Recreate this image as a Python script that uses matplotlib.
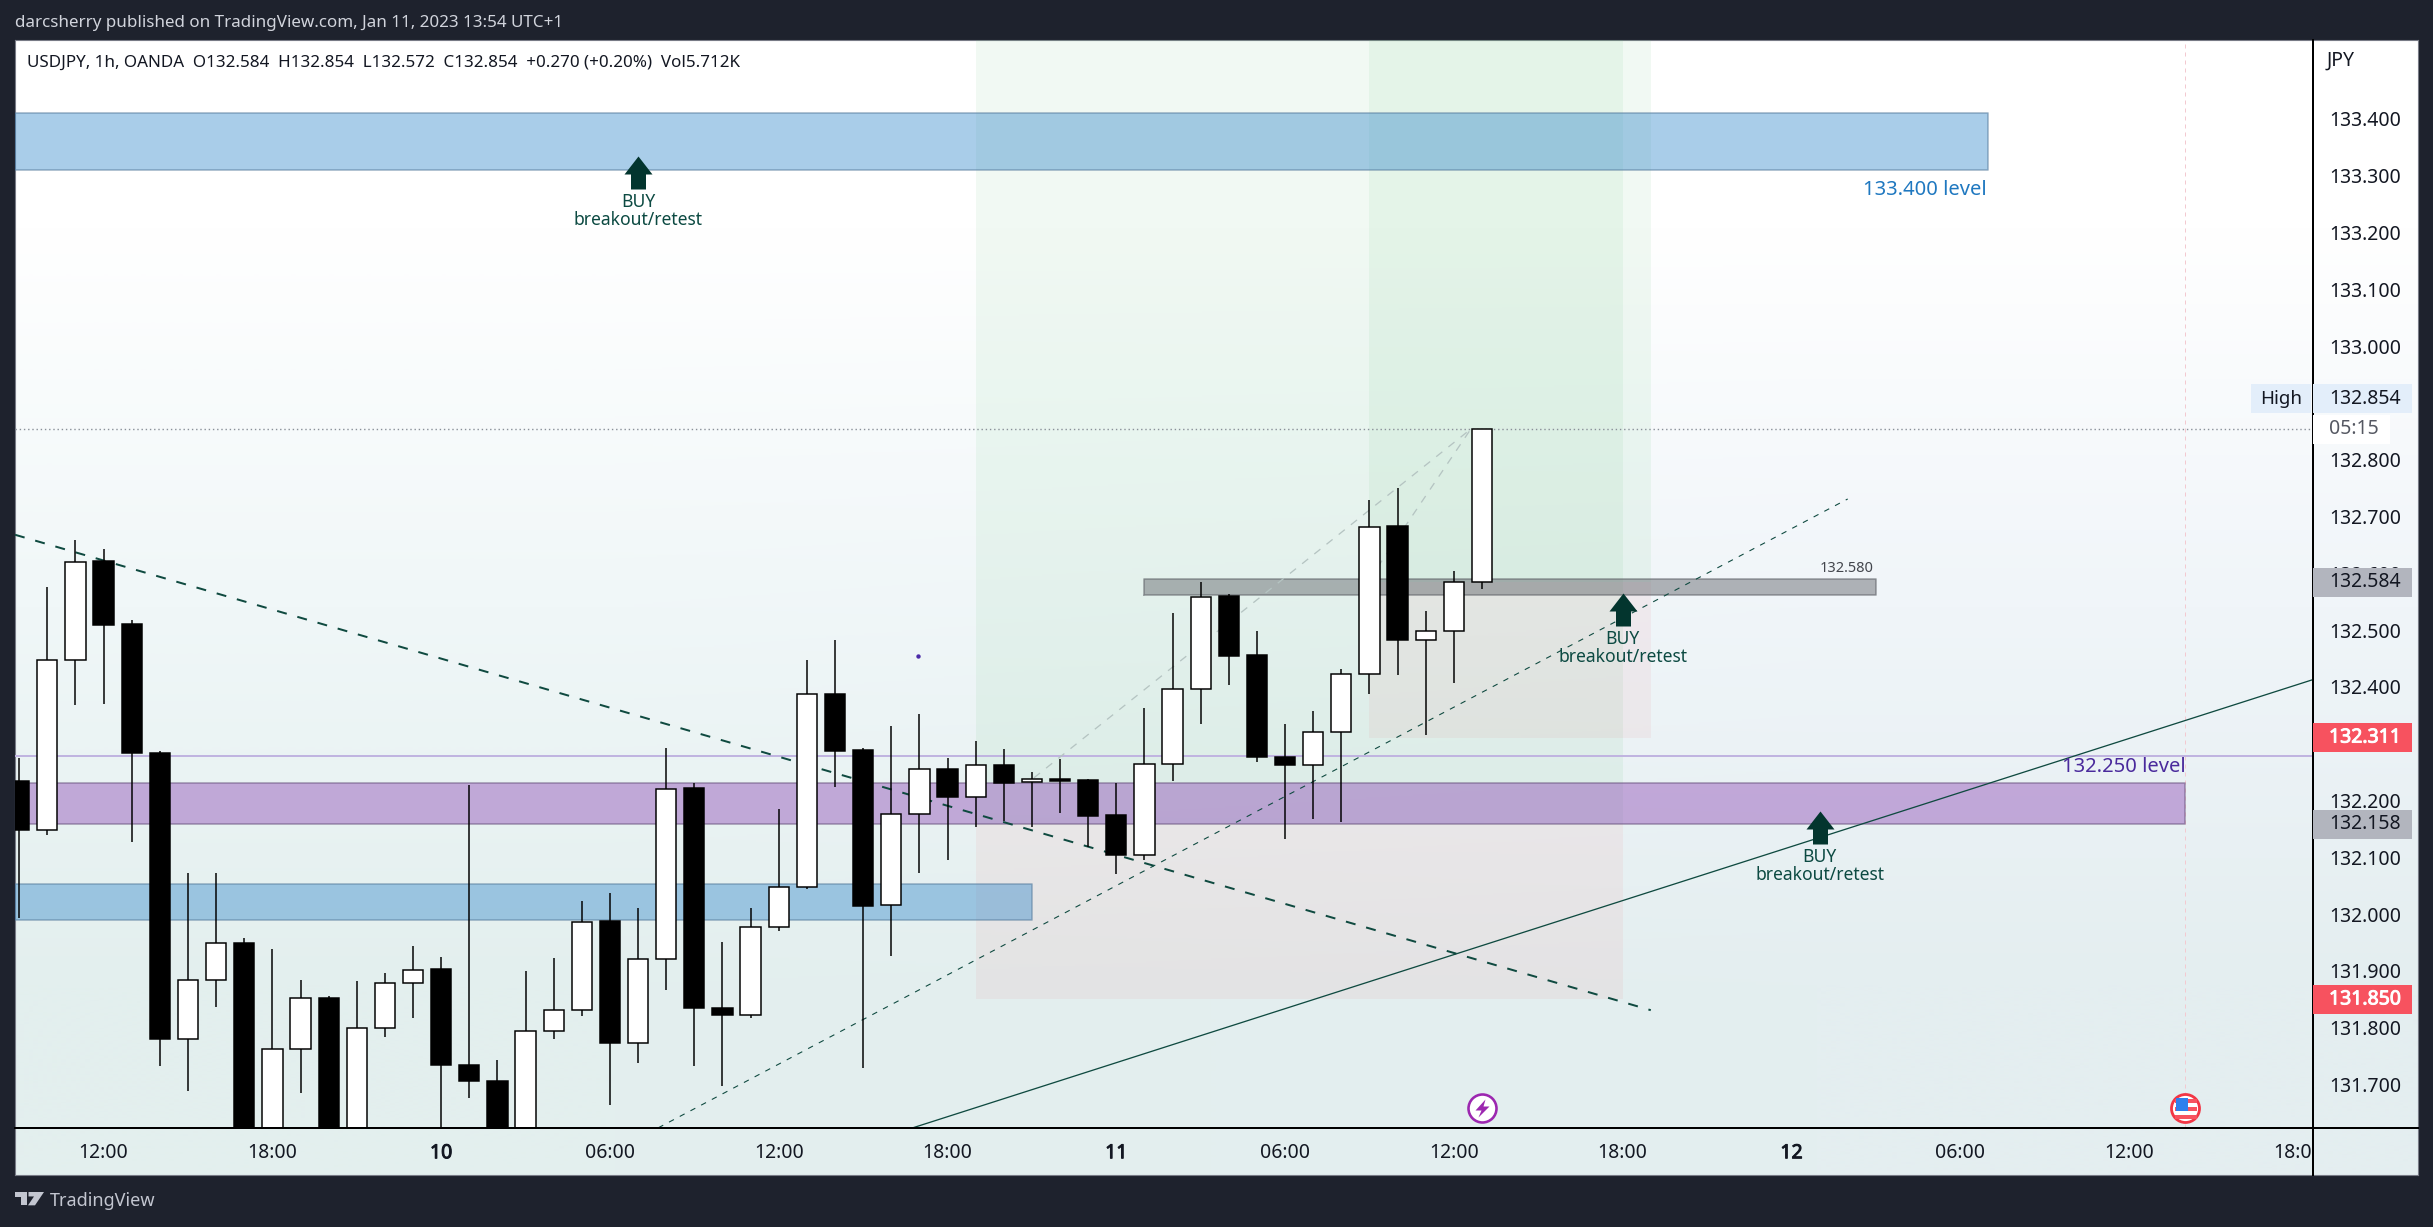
import numpy as np
import matplotlib
matplotlib.use("Agg")
import matplotlib.pyplot as plt
import matplotlib.patheffects as pe
from matplotlib.path import Path
from matplotlib.patches import Circle, Rectangle, Polygon
from matplotlib.transforms import Bbox

plt.rcParams['font.family'] = ['Noto Sans', 'DejaVu Sans']

W, H = 2433, 1227
BG = '#1e222d'

# ---------- data ----------
bar_index = list(range(-3, 50))
opens = [132.235,132.149,132.447,132.621,132.511,132.284,131.781,131.884,131.950,131.505,131.762,131.853,131.546,131.800,
         131.878,131.903,131.734,131.707,131.570,131.794,131.832,131.988,131.774,131.922,132.222,131.835,131.822,131.977,
         132.047,132.388,132.289,132.016,132.177,132.256,132.207,132.263,132.232,132.238,132.236,132.175,132.105,132.264,
         132.397,132.560,132.456,132.277,132.262,132.320,132.422,132.683,132.483,132.498,132.584]
highs = [132.275,132.576,132.659,132.643,132.518,132.287,132.073,132.073,131.958,131.939,131.884,131.856,131.883,131.897,
         131.944,131.924,132.227,131.743,131.900,131.923,132.023,132.037,132.011,132.292,132.231,131.951,132.011,132.186,
         132.447,132.482,132.292,132.331,132.353,132.275,132.305,132.291,132.251,132.273,132.238,132.231,132.363,132.530,
         132.584,132.564,132.499,132.335,132.358,132.432,132.729,132.750,132.534,132.604,132.854]
lows = [131.993,132.140,132.369,132.370,132.127,131.732,131.688,131.836,131.464,131.460,131.686,131.500,131.500,131.784,
        131.818,131.586,131.676,131.520,131.530,131.781,131.820,131.664,131.738,131.866,131.732,131.697,131.818,131.970,
        132.044,132.224,131.729,131.926,132.073,132.096,132.154,132.164,132.154,132.179,132.118,132.070,132.096,132.234,
        132.334,132.404,132.268,132.133,132.167,132.162,132.388,132.421,132.316,132.407,132.572]
closes = [132.149,132.447,132.620,132.509,132.283,131.781,131.884,131.949,131.505,131.762,131.853,131.546,131.800,131.878,
          131.902,131.734,131.707,131.570,131.794,131.832,131.987,131.774,131.922,132.221,131.835,131.822,131.977,132.047,
          132.387,132.287,132.015,132.177,132.256,132.207,132.262,132.231,132.238,132.234,132.173,132.105,132.264,132.397,
          132.559,132.455,132.276,132.262,132.320,132.422,132.682,132.482,132.498,132.584,132.854]

price_ticks = [133.4,133.3,133.2,133.1,133.0,132.8,132.7,132.6,132.5,132.4,132.2,132.1,132.0,131.9,131.8,131.7]
time_positions = [0, 6, 12, 18, 24, 30, 36, 42, 48, 54, 60, 66, 72, 78]
time_labels = ['12:00','18:00','10','06:00','12:00','18:00','11','06:00','12:00','18:00','12','06:00','12:00','18:00']
day_labels = ['10', '11', '12']

high_price = 132.854
high_tag_price = 132.907
pos_a = dict(x0=31, x1=54, entry=132.158, stop=131.850, target=133.6)
pos_b = dict(x0=45, x1=55, entry=132.584, stop=132.311, target=133.6)
top_zone = (133.31, 133.41, 67.0)
purple_zone = (132.158, 132.231, 74.0)
blue_zone = (131.989, 132.053, 33.0)
grey_zone = (132.562, 132.590, 37.0, 63.0)
level_line = 132.279
down_trend = ([-3.15, 55.0], [132.668, 131.831])
up_trend_dashed = ([19.72, 62.0], [131.624, 132.731])
up_trend_solid = ([28.77, 78.54], [131.624, 132.413])
faint_a = ([33.07, 48.6], [132.24, 132.854])
faint_b = ([45.29, 48.6], [132.611, 132.854])
buy_x = [19, 54, 61]
buy_y = [133.335, 132.565, 132.182]
axis_tags = [(high_tag_price, '132.854', '#e3eefa', '#131722'),
             (132.584, '132.584', '#b2b5be', '#131722'),
             (132.311, '132.311', '#f7525f', '#ffffff'),
             (132.158, '132.158', '#b2b5be', '#131722'),
             (131.850, '131.850', '#f7525f', '#ffffff')]

# ---------- layout ----------
def rect(x0, y0, x1, y1):
    return [x0 / W, 1 - y1 / H, (x1 - x0) / W, (y1 - y0) / H]

fig = plt.figure(figsize=(W / 100, H / 100), dpi=100, facecolor=BG)

bgax = fig.add_axes(rect(15, 40, 2418, 1175), zorder=0)
grad = np.array([[[255,255,255],[255,255,255]],
                 [[240,247,248],[240,245,249]],
                 [[227,239,238],[228,238,240]]], dtype=float) / 255
bgax.imshow(grad, aspect='auto', interpolation='bilinear', extent=(0, 1, 0, 1))
bgax.set_xticks([]); bgax.set_yticks([])
for s in bgax.spines.values():
    s.set_color('#787b86'); s.set_linewidth(0.8)

ax = fig.add_axes(rect(15, 40, 2313, 1128), zorder=2)
ax.patch.set_alpha(0)
ax.set_xlim(-3.15, 78.54)
ax.set_ylim(131.6236, 133.539)
for s in ax.spines.values():
    s.set_visible(False)

PX = 0.72
bold = [pe.withStroke(linewidth=0.7, foreground='#131722')]
bold_w = [pe.withStroke(linewidth=0.7, foreground='#ffffff')]

# position tools
GREEN, PINK = '#64c47a', '#e87a80'
for p in (pos_a, pos_b):
    ax.fill_between([p['x0'], p['x1']], p['entry'], p['target'], color=GREEN, alpha=0.09, lw=0, zorder=1)
    ax.fill_between([p['x0'], p['x1']], p['stop'], p['entry'], color=PINK, alpha=0.09, lw=0, zorder=1)

# zones
xl = ax.get_xlim()[0]
def zone(x0, x1, y0, y1, color, edge, alpha=0.4):
    ax.fill_between([x0, x1], y0, y1, color=color, alpha=alpha, lw=0, zorder=2)
    ax.plot([x0, x1, x1, x0, x0], [y0, y0, y1, y1, y0], color=edge, lw=1.2 * PX * 1.4, alpha=0.55, zorder=2)

zone(xl, top_zone[2], top_zone[0], top_zone[1], '#2a82c8', '#5a7f9f')
zone(xl, purple_zone[2], purple_zone[0], purple_zone[1], '#8439af', '#6b5580')
zone(xl, blue_zone[2], blue_zone[0], blue_zone[1], '#2a82c8', '#5a7f9f')
zone(grey_zone[2], grey_zone[3], grey_zone[0], grey_zone[1], '#5d6066', '#5d6066', alpha=0.45)

# horizontals
ax.axhline(level_line, color='#c0b4e0', lw=2 * PX, zorder=3)
ax.axhline(high_price, color='#8a8f98', lw=1.4 * PX, ls=(0, (1, 2)), zorder=3)
ax.axvline(74, color='#f3c9d0', lw=1 * PX, ls=(0, (4, 4)), zorder=1)

# trend lines
ax.plot(*faint_a, color='#b5c4c2', lw=1.3 * PX, ls=(0, (6, 6)), zorder=3)
ax.plot(*faint_b, color='#b5c4c2', lw=1.3 * PX, ls=(0, (6, 6)), zorder=3)
ax.plot(*down_trend, color='#0f4a40', lw=2 * PX, ls=(0, (5, 5.5)), zorder=3)
ax.plot(*up_trend_dashed, color='#0f4a40', lw=1.1 * PX, ls=(0, (5, 6)), zorder=3)
ax.plot(*up_trend_solid, color='#0f4a40', lw=1.3 * PX, zorder=3)
ax.plot([28.95], [132.455], 'o', color='#4a2aa8', ms=3 * PX, zorder=3)

# candles
o, h, l, c = map(np.array, (opens, highs, lows, closes))
idx = np.array(bar_index)
ax.vlines(idx, l, h, color='black', lw=1.5 * PX, zorder=4)
up = c >= o
ax.bar(idx, np.abs(c - o), bottom=np.minimum(o, c), width=0.72,
       color=np.where(up, 'white', 'black').tolist(), edgecolor='black', linewidth=1.5 * PX, zorder=5)

# buy arrows
arrow = Path([(0, 0), (14, -18), (7.5, -18), (7.5, -33), (-7.5, -33), (-7.5, -18), (-14, -18), (0, 0)], closed=True)
ax.plot(buy_x, buy_y, ls='none', marker=arrow, ms=66 * PX, mfc='#03352e', mec='none', zorder=6)
for x, y in zip(buy_x, buy_y):
    ax.annotate('BUY', (x, y), xytext=(0, -46 * PX), textcoords='offset points', ha='center', va='center',
                fontsize=12.6, color='#0c4a42', zorder=7)
    ax.annotate('breakout/retest', (x, y), xytext=(0, -64 * PX), textcoords='offset points', ha='center', va='center',
                fontsize=12.6, color='#0c4a42', zorder=7)

# level labels
ax.text(top_zone[2] - 0.05, 133.293, '133.400 level', ha='right', va='top', fontsize=14.5, color='#1f78c0', zorder=7)
ax.text(purple_zone[2], 132.276, '132.250 level', ha='right', va='top', fontsize=14.5, color='#4a2a9c', zorder=7)
ax.text(grey_zone[3] - 0.1, 132.595, '132.580', ha='right', va='bottom', fontsize=10.5, color='#43464d', zorder=7)

# axes ticks
ax.set_xticks(time_positions, time_labels)
ax.yaxis.tick_right()
ax.set_yticks(price_ticks, [f'{p:.3f}' for p in price_ticks])
ax.tick_params(axis='y', length=0, pad=11.5, labelsize=14, labelcolor='#131722')
ax.tick_params(axis='x', length=0, pad=11, labelsize=14, labelcolor='#131722')
clip = Bbox.from_extents(15, 0, 2313, H - 1128)
for lab in ax.get_xticklabels():
    lab.set_clip_box(clip)
    lab.set_clip_on(True)
    if lab.get_text() in day_labels:
        lab.set_path_effects(bold)

# price scale tags
ax2 = fig.add_axes(rect(2313, 40, 2418, 1128), zorder=3)
ax2.patch.set_alpha(0)
ax2.set_xlim(0, 105)
ax2.set_ylim(ax.get_ylim())
ax2.axis('off')
tag_h = 29 / 568
for price, txt, fc, tc in axis_tags:
    ax2.barh(price, 99, height=tag_h, left=0, color=fc, zorder=2)
    t = ax2.text(16, price, txt, va='center', ha='left', fontsize=14, color=tc, zorder=3)
    if tc == '#ffffff':
        t.set_path_effects(bold_w)
ax2.barh(high_tag_price, 60, height=tag_h, left=-62, color='#e3eefa', clip_on=False, zorder=2)
ax2.text(-32, high_tag_price, 'High', va='center', ha='center', fontsize=13.5, color='#131722', zorder=3, clip_on=False)
ax2.barh(high_price, 77, height=tag_h, left=0, color='white', zorder=2)
ax2.text(16, high_price, '05:15', va='center', ha='left', fontsize=14, color='#555862', zorder=3)
ax2.text(14, 133.4 + 58 / 568, 'JPY', va='center', ha='left', fontsize=14, color='#131722', zorder=3)

# frame lines
fig.add_artist(plt.Line2D([15 / W, 2418 / W], [1 - 1128 / H] * 2, color='black', lw=2 * PX, zorder=4))
fig.add_artist(plt.Line2D([2313 / W] * 2, [1 - 40 / H, 1 - 1175 / H], color='black', lw=2 * PX, zorder=2.5))

# header / footer text
fig.text(15 / W, 1 - 23 / H, 'darcsherry published on TradingView.com, Jan 11, 2023 13:54 UTC+1',
         color='#d1d4dc', fontsize=12.25, va='center', ha='left', zorder=5)
fig.text(27.5 / W, 1 - 63 / H,
         'USDJPY, 1h, OANDA  O132.584  H132.854  L132.572  C132.854  +0.270 (+0.20%)  Vol5.712K',
         color='#131722', fontsize=12.25, va='center', ha='left', zorder=5)
fig.text(50 / W, 1 - 1201 / H, 'TradingView', color='#c3c6d0', fontsize=13, va='center', ha='left', zorder=5)

# logo
lg = fig.add_axes(rect(15, 1192, 44, 1208), zorder=5)
lg.set_xlim(0, 29); lg.set_ylim(18, 0); lg.axis('off')
for pts in ([(0, 0), (12, 0), (12, 15), (6, 15), (6, 6), (0, 6)],
            [(13.5, 0), (29, 0), (20, 15), (13, 15), (19, 5), (13.5, 5)]):
    lg.add_patch(Polygon(pts, closed=True, fc='#c3c6d0', ec='none'))

# event icons
ic = fig.add_axes(rect(1465, 1091, 1500, 1126), zorder=6)
ic.set_xlim(-17.5, 17.5); ic.set_ylim(17.5, -17.5); ic.axis('off')
ic.add_patch(Circle((0, 0), 14, fc='#ffffff', ec='#9c27b0', lw=2.6 * PX))
ic.add_patch(Polygon([(3, -9), (-7, 2), (-1, 2), (-4, 9), (7, -2), (1, -2)], closed=True, fc='#9c27b0', ec='none'))

fl = fig.add_axes(rect(2168, 1091, 2203, 1126), zorder=6)
fl.set_xlim(-17.5, 17.5); fl.set_ylim(17.5, -17.5); fl.axis('off')
fl.add_patch(Circle((0, 0), 14, fc='#ffffff', ec='#f23645', lw=2.8 * PX))
for y0, y1 in ((-10, -6), (-2, 2), (6, 10)):
    fl.add_patch(Rectangle((-11, y0), 22, y1 - y0, fc='#f7525f', ec='none'))
fl.add_patch(Rectangle((-10, -11), 12, 13, fc='#2f80ed', ec='none'))

fig.savefig('out.png', dpi=100, facecolor=BG)
